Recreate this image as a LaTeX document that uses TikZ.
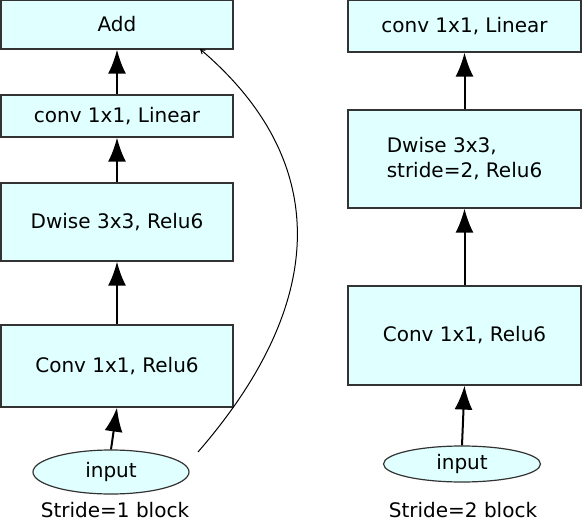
\documentclass[tikz,border=0pt]{standalone}
\usepackage{fontspec}
\setmainfont{DejaVu Sans}
\usetikzlibrary{arrows.meta,positioning,shapes.geometric}
\definecolor{boxfill}{HTML}{E0FFFF}
\definecolor{boxline}{HTML}{333333}

\begin{document}
\begin{tikzpicture}[x=1pt,y=-1pt, font=\fontsize{20}{25}\selectfont,
 box/.style={draw=boxline,fill=boxfill,line width=1.2pt,inner sep=0pt,align=center},
 lbox/.style={box,minimum width=232pt},
 rbox/.style={box,minimum width=233pt},
 inp/.style={ellipse,draw=boxline,fill=boxfill,line width=1.2pt,inner sep=0pt},
 captext/.style={anchor=base,inner sep=0pt},
 arr/.style={-{Latex[length=24pt,width=18pt]},line width=2pt},
 skip/.style={-{Straight Barb[length=4pt,width=5pt]},line width=1pt}]
\useasboundingbox (0,0) rectangle (582,522);
% stride 1 block
\node[lbox,minimum height=49pt] (add) at (117,24.5) {Add};
\node[lbox,minimum height=42pt] (lin) at (117,116) {conv 1x1, Linear};
\node[lbox,minimum height=78pt] (dw) at (117,222) {Dwise 3x3, Relu6};
\node[lbox,minimum height=82pt] (exp) at (117,366) {Conv 1x1, Relu6};
\node[inp,minimum width=156pt,minimum height=44pt] (in) at (111,472) {input};
\node[captext] (lcap) at (115,517) {Stride=1 block};
\coordinate (skipa) at (198,452);
\coordinate (skipb) at (200,49);
\draw[arr] (in.north) -- (exp.south);
\draw[arr] (exp.north) -- (dw.south);
\draw[arr] (dw.north) -- (lin.south);
\draw[arr] (lin.north) -- (add.south);
\draw[skip] (skipa) .. controls (330,300) and (330,160) .. (skipb);
% stride 2 block
\node[rbox,minimum height=52pt] (rlin) at (464.5,26) {conv 1x1, Linear};
\node[rbox,minimum height=98pt,align=left] (rdw) at (464.5,159) {Dwise 3x3,\\stride=2, Relu6};
\node[rbox,minimum height=99pt] (rexp) at (464.5,335.5) {Conv 1x1, Relu6};
\node[inp,minimum width=157pt,minimum height=36pt] (rin) at (462,464) {input};
\node[captext] (rcap) at (463,517) {Stride=2 block};
\draw[arr] (rin.north) -- (rexp.south);
\draw[arr] (rexp.north) -- (rdw.south);
\draw[arr] (rdw.north) -- (rlin.south);
\end{tikzpicture}
\end{document}
